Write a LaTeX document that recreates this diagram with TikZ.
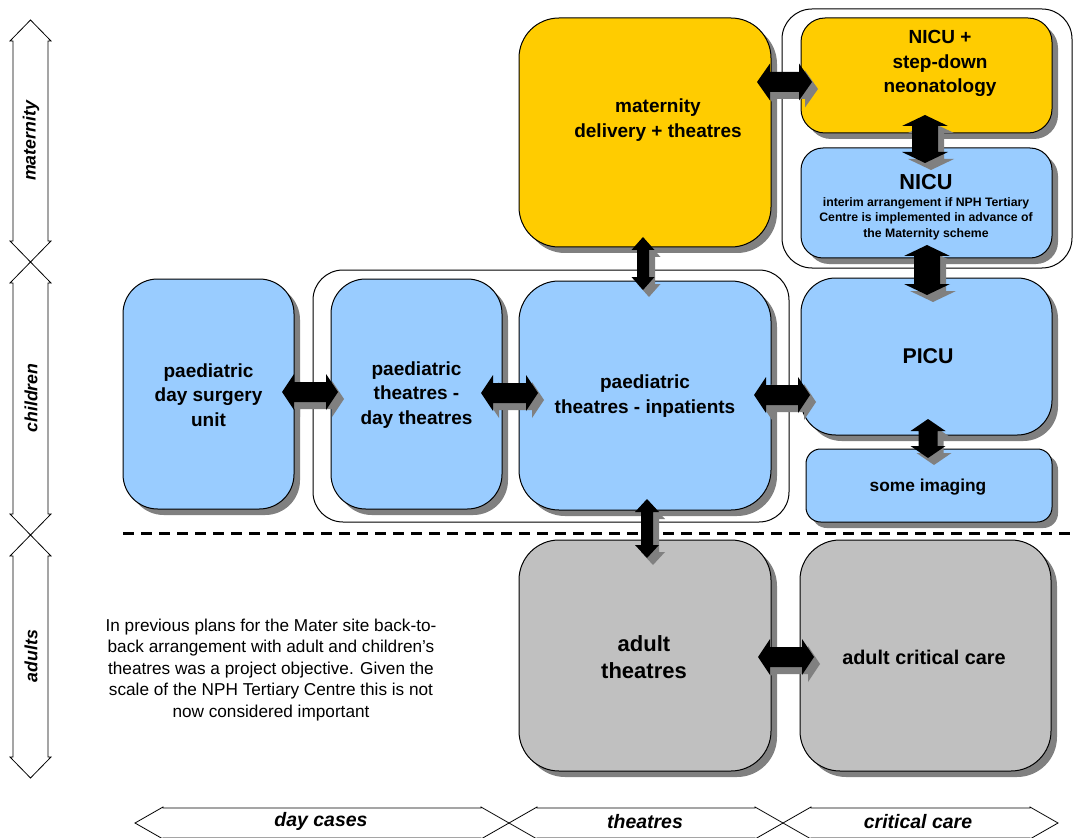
\documentclass[tikz,border=0pt]{standalone}
\usepackage{fontspec}
\setmainfont{Liberation Sans}
\usetikzlibrary{shadows,calc}
\definecolor{myyellow}{HTML}{FFCC00}
\definecolor{myblue}{HTML}{99CCFF}
\definecolor{mygray}{HTML}{C0C0C0}
\definecolor{shadowgray}{HTML}{808080}

\tikzset{
 box/.style={draw=black, line width=0.75pt, inner sep=0pt,
   drop shadow={shadow xshift=4.5pt, shadow yshift=-4.5pt, fill=shadowgray, opacity=1}},
 groupbox/.style={draw=black, line width=0.75pt, inner sep=0pt, rounded corners=22.5pt},
 lbl/.style={font=\fontsize{14.25}{18.4}\selectfont\bfseries, align=center, inner sep=0pt},
 axislbl/.style={font=\fontsize{13.3}{15}\selectfont\bfseries\itshape, inner sep=0pt},
 bottomlbl/.style={font=\fontsize{14.6}{16}\selectfont\bfseries\itshape, inner sep=0pt},
 axisarrow/.style={draw=black, fill=white, line width=0.6pt, line join=miter},
 fatblack/.style={fill=black},
 fatshadow/.style={fill=shadowgray, transform canvas={shift={(6,7)}}},
}

% horizontal double arrow: style, left tip, right tip, head length, head half, shaft half
\newcommand\hdarrow[6]{%
 \path[#1] (#2) -- ([shift={(#4,-#5)}]#2) -- ([shift={(#4,-#6)}]#2) -- ([shift={(-#4,-#6)}]#3)
  -- ([shift={(-#4,-#5)}]#3) -- (#3) -- ([shift={(-#4,#5)}]#3) -- ([shift={(-#4,#6)}]#3)
  -- ([shift={(#4,#6)}]#2) -- ([shift={(#4,#5)}]#2) -- cycle;}
% vertical double arrow: style, top tip, bottom tip, head length, head half, shaft half
\newcommand\vdarrow[6]{%
 \path[#1] (#2) -- ([shift={(-#5,#4)}]#2) -- ([shift={(-#6,#4)}]#2) -- ([shift={(-#6,-#4)}]#3)
  -- ([shift={(-#5,-#4)}]#3) -- (#3) -- ([shift={(#5,-#4)}]#3) -- ([shift={(#6,-#4)}]#3)
  -- ([shift={(#6,#4)}]#2) -- ([shift={(#5,#4)}]#2) -- cycle;}
\newcommand\fatH[5]{\hdarrow{fatshadow}{#1}{#2}{#3}{#4}{#5}\hdarrow{fatblack}{#1}{#2}{#3}{#4}{#5}}
\newcommand\fatV[5]{\vdarrow{fatshadow}{#1}{#2}{#3}{#4}{#5}\vdarrow{fatblack}{#1}{#2}{#3}{#4}{#5}}

\begin{document}
\begin{tikzpicture}[x=0.75pt,y=-0.75pt]
\useasboundingbox (0,0) rectangle (1075,838);
\clip (0,0) rectangle (1075,838);

% ---- axis arrows (left) ----
\coordinate (m1) at (30.5,20);  \coordinate (m2) at (30.5,262);
\coordinate (c1) at (30.5,262); \coordinate (c2) at (30.5,535);
\coordinate (d1) at (30.5,535); \coordinate (d2) at (30.5,778);
\vdarrow{axisarrow}{m1}{m2}{21}{20.5}{17.5}
\vdarrow{axisarrow}{c1}{c2}{21}{20.5}{17.5}
\vdarrow{axisarrow}{d1}{d2}{21}{20.5}{17.5}
\node[axislbl, rotate=90] (lmat) at (31,141) {maternity};
\node[axislbl, rotate=90] (lchi) at (31,398) {children};
\node[axislbl, rotate=90] (ladu) at (31,656) {adults};

% ---- axis arrows (bottom) ----
\coordinate (b1) at (135,823); \coordinate (b2) at (509,823);
\coordinate (b3) at (509,823); \coordinate (b4) at (783,823);
\coordinate (b5) at (783,823); \coordinate (b6) at (1058,823);
\hdarrow{axisarrow}{b1}{b2}{28}{16}{15}
\hdarrow{axisarrow}{b3}{b4}{28}{16}{15}
\hdarrow{axisarrow}{b5}{b6}{28}{16}{15}
\node[bottomlbl] (ldc) at (321,821) {day cases};
\node[bottomlbl] (lth) at (645,822) {theatres};
\node[bottomlbl] (lcc) at (918,822) {critical care};

% ---- group outlines ----
\node[groupbox, minimum width=217.5pt, minimum height=194.25pt] (gnicu) at (927,138.5) {};
\node[groupbox, minimum width=357pt, minimum height=189pt] (gth) at (551,396) {};

% ---- dashed separator ----
\coordinate (dl) at (123,533); \coordinate (dr) at (1075,533);
\draw[line width=2.25pt, dash pattern=on 8.25pt off 5.25pt] (dl) -- (dr);

% ---- boxes ----
\node[box, fill=myyellow, rounded corners=30pt, minimum width=189pt, minimum height=171.75pt] (mat) at (645,132.5) {};
\node[box, fill=myyellow, rounded corners=18pt, minimum width=188.25pt, minimum height=86.25pt] (nicu1) at (926.5,75.5) {};
\node[box, fill=myblue, rounded corners=16.5pt, minimum width=188.25pt, minimum height=82.5pt] (nicu2) at (926.5,203) {};
\node[box, fill=myblue, rounded corners=26pt, minimum width=128.25pt, minimum height=172.5pt] (pds) at (208.5,394) {};
\node[box, fill=myblue, rounded corners=26pt, minimum width=128.25pt, minimum height=172.5pt] (pdt) at (416.5,394) {};
\node[box, fill=myblue, rounded corners=30pt, minimum width=189pt, minimum height=171.75pt] (pin) at (645,395.5) {};
\node[box, fill=myblue, rounded corners=26pt, minimum width=188.25pt, minimum height=117.75pt] (picu) at (926.5,356.5) {};
\node[box, fill=myblue, rounded corners=11pt, minimum width=184.5pt, minimum height=54.75pt] (img) at (929,485.5) {};
\node[box, fill=mygray, rounded corners=30pt, minimum width=189pt, minimum height=173.25pt] (adt) at (645,655.5) {};
\node[box, fill=mygray, rounded corners=30pt, minimum width=188.25pt, minimum height=173.25pt] (acc) at (925.5,655.5) {};

% ---- box labels ----
\node[lbl] (matT) at (658,120) {maternity\\delivery + theatres};
\node[lbl] (nicu1T) at (940,63.5) {NICU +\\step-down\\neonatology};
\node[lbl, font=\fontsize{16.3}{18}\selectfont\bfseries] (nicu2T) at (926,182) {NICU};
\node[lbl, font=\fontsize{9.2}{11.6}\selectfont\bfseries] (nicu2S) at (926,218.5) {interim arrangement if NPH Tertiary\\Centre is implemented in advance of\\the Maternity scheme};
\node[lbl] (pdsT) at (208.5,395) {paediatric\\day surgery\\unit};
\node[lbl] (pdtT) at (416.5,395) {paediatric\\theatres -\\day theatres};
\node[lbl] (pinT) at (645,396) {paediatric\\theatres - inpatients};
\node[lbl, font=\fontsize{16}{18}\selectfont\bfseries] (picuT) at (928,356) {PICU};
\node[lbl, font=\fontsize{13}{15}\selectfont\bfseries] (imgT) at (928,487) {some imaging};
\node[lbl, font=\fontsize{16.5}{20.3}\selectfont\bfseries] (adtT) at (644,657) {adult\\theatres};
\node[lbl, font=\fontsize{14.9}{18}\selectfont\bfseries] (accT) at (924,657) {adult critical care};

% ---- note ----
\node[font=\fontsize{12.9}{16.1}\selectfont, align=center, inner sep=0pt] (note) at (271,670)
 {In previous plans for the Mater site back-to-\\back arrangement with adult and children's\\theatres was a project objective. Given the\\scale of the NPH Tertiary Centre this is not\\now considered important};

% ---- fat double arrows ----
\coordinate (a1l) at (757,82);  \coordinate (a1r) at (812,82);
\coordinate (a2l) at (282,392); \coordinate (a2r) at (338,392);
\coordinate (a3l) at (481,393); \coordinate (a3r) at (538,393);
\coordinate (a4l) at (754,395); \coordinate (a4r) at (810,395);
\coordinate (a5l) at (758,657); \coordinate (a5r) at (814,657);
\fatH{a1l}{a1r}{13}{18.5}{10}
\fatH{a2l}{a2r}{12}{18}{10}
\fatH{a3l}{a3r}{12}{18}{10}
\fatH{a4l}{a4r}{12}{18}{10}
\fatH{a5l}{a5r}{12}{18}{10}
\coordinate (v1t) at (643,237); \coordinate (v1b) at (643,290);
\coordinate (v2t) at (925,115); \coordinate (v2b) at (925,163);
\coordinate (v3t) at (927,245); \coordinate (v3b) at (927,295);
\coordinate (v4t) at (928,419); \coordinate (v4b) at (928,458);
\coordinate (v5t) at (647,499); \coordinate (v5b) at (647,558);
\fatV{v1t}{v1b}{13}{11.5}{6}
\fatV{v2t}{v2b}{11}{23}{13}
\fatV{v3t}{v3b}{11}{23}{13}
\fatV{v4t}{v4b}{12}{17.5}{9.5}
\fatV{v5t}{v5b}{13}{12}{6}
\end{tikzpicture}
\end{document}
